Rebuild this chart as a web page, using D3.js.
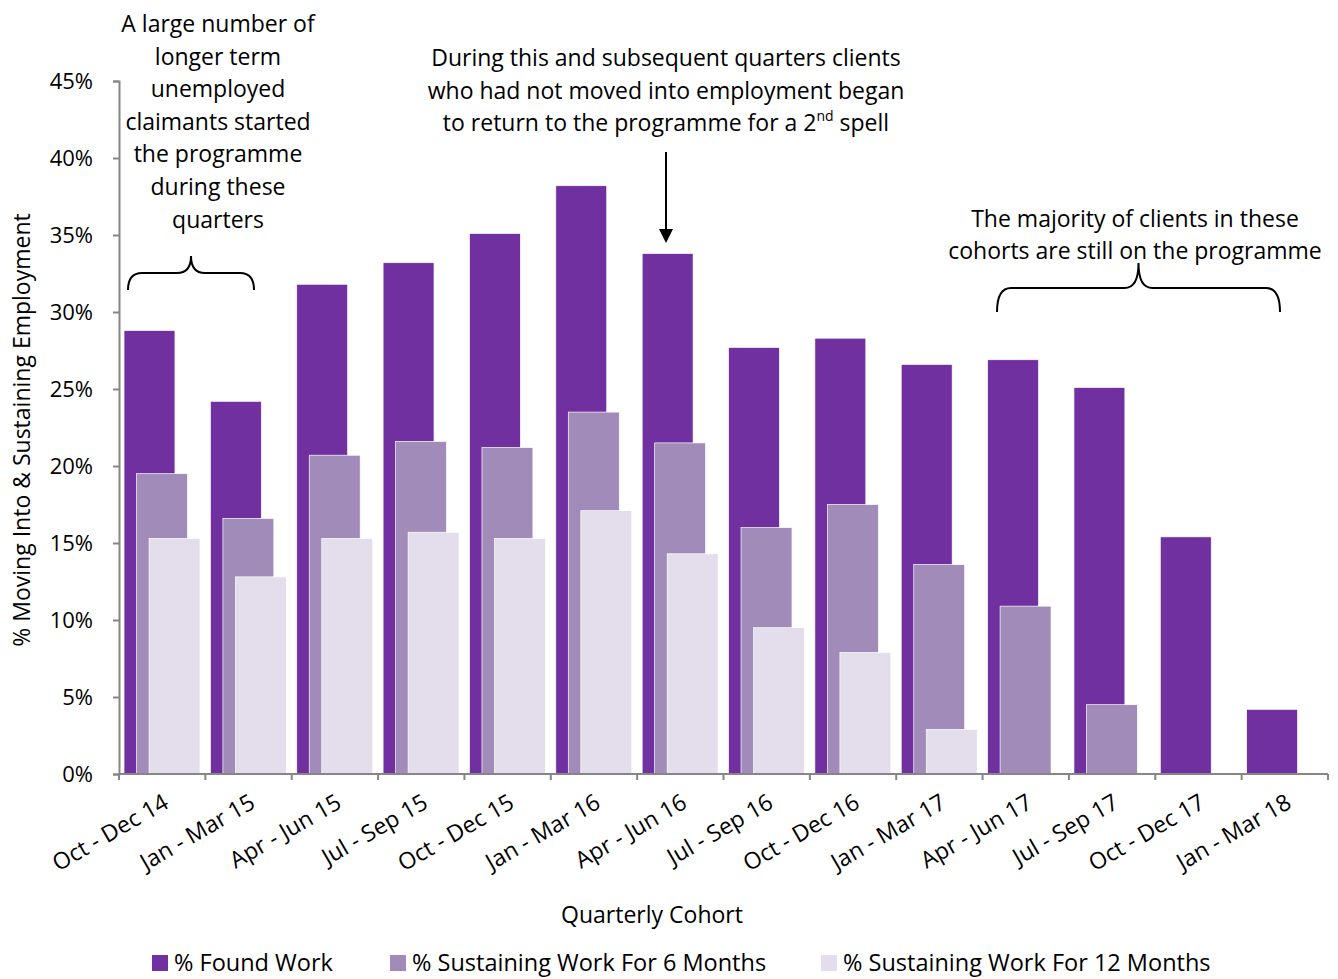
<!DOCTYPE html>
<html>
<head>
<meta charset="utf-8">
<script src="https://cdn.jsdelivr.net/npm/d3@7"></script>
<style>
 body { margin: 0; background: #fff; }
 text { font-family: "Open Sans", sans-serif; fill: #000; }
</style>
</head>
<body>
<div id="chart"></div>
<script>
var w = 1338;
var h = 979;

var cohorts = ["Oct - Dec 14", "Jan - Mar 15", "Apr - Jun 15", "Jul - Sep 15", "Oct - Dec 15",
  "Jan - Mar 16", "Apr - Jun 16", "Jul - Sep 16", "Oct - Dec 16", "Jan - Mar 17",
  "Apr - Jun 17", "Jul - Sep 17", "Oct - Dec 17", "Jan - Mar 18"];
var foundWork = [28.8, 24.2, 31.8, 33.2, 35.1, 38.2, 33.8, 27.7, 28.3, 26.6, 26.9, 25.1, 15.4, 4.2];
var sustain6 = [19.5, 16.6, 20.7, 21.6, 21.2, 23.5, 21.5, 16.0, 17.5, 13.6, 10.9, 4.5, null, null];
var sustain12 = [15.3, 12.8, 15.3, 15.7, 15.3, 17.1, 14.3, 9.5, 7.9, 2.9, null, null, null, null];
var seriesNames = ["% Found Work", "% Sustaining Work For 6 Months", "% Sustaining Work For 12 Months"];
var colors = ["#7030A0", "#A08BB9", "#E4DEEC"];
var yTicks = [0, 5, 10, 15, 20, 25, 30, 35, 40, 45];

var svg = d3.select("#chart")
  .append("svg")
  .attr("width", w)
  .attr("height", h);

var x = d3.scaleBand().domain(cohorts).range([119, 1328]).padding(0);
var y = d3.scaleLinear().domain([0, 45]).range([774, 81]);

var bw = x.bandwidth();
var barW = bw * 0.59;
var step = bw * 0.145;
var start = bw * 0.058;

var allSeries = [foundWork, sustain6, sustain12];
allSeries.forEach(function(vals, s) {
  svg.append("g")
    .selectAll("rect")
    .data(vals.map(function(v, i) { return {c: cohorts[i], v: v}; }).filter(function(d) { return d.v != null; }))
    .enter()
    .append("rect")
    .attr("x", function(d) { return x(d.c) + start + s * step; })
    .attr("y", function(d) { return y(d.v); })
    .attr("width", barW)
    .attr("height", function(d) { return y(0) - y(d.v); })
    .attr("fill", colors[s])
    .attr("stroke", "#fff")
    .attr("stroke-width", 0.7);
});

// y axis
var yAxis = svg.append("g")
  .attr("transform", "translate(119,0)")
  .call(d3.axisLeft(y).tickValues(yTicks).tickSize(6).tickFormat(function(d) { return d + "%"; }));
yAxis.selectAll("text").attr("font-size", 22).attr("x", -26).style("font-family", "Open Sans");
yAxis.selectAll("line, path").attr("stroke", "#868686").attr("stroke-width", 2);

// x axis
var xAxis = svg.append("g")
  .attr("transform", "translate(0,774)")
  .call(d3.axisBottom(x).tickSize(0).tickFormat(""));
xAxis.select("path").attr("stroke", "#868686").attr("stroke-width", 2).attr("d", "M119,0H1328");
var edges = cohorts.map(function(c) { return x(c); }).concat([1328]);
xAxis.selectAll(".edge")
  .data(edges)
  .enter()
  .append("line")
  .attr("x1", function(d) { return d; })
  .attr("x2", function(d) { return d; })
  .attr("y1", 0)
  .attr("y2", 6)
  .attr("stroke", "#868686")
  .attr("stroke-width", 2);

svg.append("g")
  .selectAll("text")
  .data(cohorts)
  .enter()
  .append("text")
  .attr("transform", function(d) { return "translate(" + (x(d) + bw / 2) + ",793) rotate(-30)"; })
  .attr("text-anchor", "end")
  .attr("dy", "0.7em")
  .attr("font-size", 23)
  .text(function(d) { return d; });

// axis titles
svg.append("text")
  .attr("transform", "translate(30,430) rotate(-90)")
  .attr("text-anchor", "middle")
  .attr("font-size", 23)
  .text("% Moving Into & Sustaining Employment");

svg.append("text")
  .attr("x", 652)
  .attr("y", 923)
  .attr("text-anchor", "middle")
  .attr("font-size", 23)
  .text("Quarterly Cohort");

// legend
var legX = [152, 390, 821];
seriesNames.forEach(function(n, i) {
  svg.append("rect")
    .attr("x", legX[i]).attr("y", 955).attr("width", 16).attr("height", 16)
    .attr("fill", colors[i]);
  svg.append("text")
    .attr("x", legX[i] + 22).attr("y", 971)
    .attr("font-size", 23.5)
    .text(n);
});

// annotations
function block(lines, cx, y0, lh) {
  var t = svg.append("text").attr("text-anchor", "middle").attr("font-size", 23);
  lines.forEach(function(l, i) {
    t.append("tspan").attr("x", cx).attr("y", y0 + i * lh).text(l);
  });
  return t;
}
block(["A large number of", "longer term", "unemployed", "claimants started",
  "the programme", "during these", "quarters"], 218, 32, 32.6);
block(["During this and subsequent quarters clients", "who had not moved into employment began"], 666, 66, 32.5);
var t3 = svg.append("text").attr("text-anchor", "middle").attr("font-size", 23)
  .attr("x", 666).attr("y", 131);
t3.append("tspan").text("to return to the programme for a 2");
t3.append("tspan").attr("font-size", 14).attr("dy", -10).text("nd");
t3.append("tspan").attr("dy", 10).text(" spell");
block(["The majority of clients in these", "cohorts are still on the programme"], 1135, 227, 32);

// braces
function brace(x0, x1, yEnd, yFlat, yTip) {
  var mid = (x0 + x1) / 2, r = 14;
  var p = "M" + x0 + "," + yEnd +
    " Q" + x0 + "," + yFlat + " " + (x0 + r) + "," + yFlat +
    " L" + (mid - r) + "," + yFlat +
    " Q" + mid + "," + yFlat + " " + mid + "," + yTip +
    " Q" + mid + "," + yFlat + " " + (mid + r) + "," + yFlat +
    " L" + (x1 - r) + "," + yFlat +
    " Q" + x1 + "," + yFlat + " " + x1 + "," + yEnd;
  svg.append("path").attr("d", p).attr("fill", "none").attr("stroke", "#000").attr("stroke-width", 2);
}
brace(128, 254, 290, 273, 256);
brace(997, 1280, 312, 288, 263);

// arrow
svg.append("line").attr("x1", 666).attr("x2", 666).attr("y1", 152).attr("y2", 232)
  .attr("stroke", "#000").attr("stroke-width", 2);
svg.append("path").attr("d", "M659,229 L673,229 L666,243 Z").attr("fill", "#000");
</script>
</body>
</html>
